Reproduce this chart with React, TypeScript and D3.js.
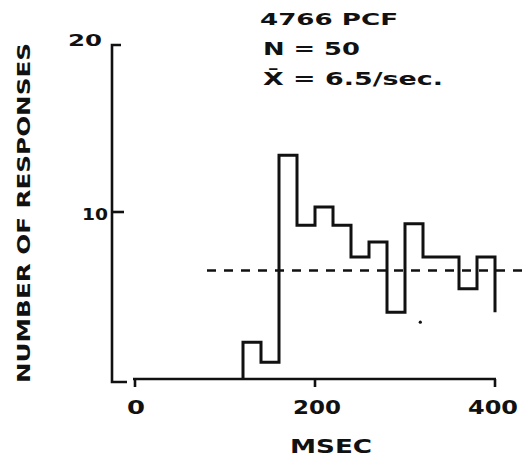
import React from "react";
import * as d3 from "d3";

const binStarts = [120, 140, 160, 180, 200, 220, 240, 260, 280, 300, 320, 340, 360, 380];
const binWidth = 20;
const counts = [2.2, 1.0, 13.4, 9.2, 10.3, 9.2, 7.3, 8.2, 4.0, 9.3, 7.3, 7.3, 5.4, 7.3];
const tailEnd = 4.0;
const meanRate = 6.5;
const meanFrom = 80;
const meanTo = 436;
const xTicks = [0, 200, 400];
const yTicks = [10, 20];
const titleLines = ["4766 PCF", "N = 50", "X\u0304 = 6.5/sec."];
const strayDot = [317, 3.4];

export default function App() {
  const W = 529, H = 466;
  const x = d3.scaleLinear().domain([0, 400]).range([135, 495]);
  const y = d3.scaleLinear().domain([0, 20]).range([379, 45]);

  // step path of histogram
  const pts: [number, number][] = [];
  pts.push([binStarts[0], 0]);
  binStarts.forEach((s, i) => {
    pts.push([s, counts[i]]);
    pts.push([s + binWidth, counts[i]]);
  });
  const last = binStarts[binStarts.length - 1] + binWidth;
  pts.push([last, tailEnd]);
  const line = d3.line<[number, number]>().x(d => x(d[0])).y(d => y(d[1]));

  const font = "'DejaVu Sans', Verdana, sans-serif";
  const axisX = 112;

  return (
    <svg width={W} height={H} style={{ position: "absolute", left: 0, top: 0, background: "#fff" }}>
      <rect width={W} height={H} fill="#fff" />
      {/* y axis */}
      <path d={`M${axisX + 9},${y(20)} H${axisX} V${382} H${axisX + 15}`} fill="none" stroke="#111" strokeWidth={2.6} />
      {yTicks.filter(t => t !== 20).map(t => (
        <line key={t} x1={axisX} x2={axisX + 12} y1={y(t)} y2={y(t)} stroke="#111" strokeWidth={2.6} />
      ))}
      {/* x axis */}
      <line x1={x(0) - 2} x2={x(400) + 1} y1={y(0)} y2={y(0)} stroke="#111" strokeWidth={2.6} />
      {xTicks.map(t => (
        <line key={t} x1={x(t)} x2={x(t)} y1={y(0)} y2={y(0) + 8} stroke="#111" strokeWidth={2.6} />
      ))}
      {/* y tick labels */}
      <text x={68} y={46} fontFamily={font} fontWeight="bold" fontSize={15} textLength={34} lengthAdjust="spacingAndGlyphs" fill="#111">20</text>
      <text x={82} y={220} fontFamily={font} fontWeight="bold" fontSize={15} textLength={26} lengthAdjust="spacingAndGlyphs" fill="#111">10</text>
      {/* x tick labels */}
      {xTicks.map((t, i) => (
        <text key={t} x={x(t) + (i === 2 ? -2 : i === 1 ? 2 : 1)} y={414} textAnchor="middle" fontFamily={font} fontWeight="bold" fontSize={20}
          textLength={i === 0 ? 18 : i === 1 ? 48 : 50} lengthAdjust="spacingAndGlyphs" fill="#111">{t}</text>
      ))}
      {/* axis titles */}
      <text x={331} y={453} textAnchor="middle" fontFamily={font} fontWeight="bold" fontSize={20} textLength={82} lengthAdjust="spacingAndGlyphs" fill="#111">MSEC</text>
      <text transform="translate(30,213) rotate(-90)" textAnchor="middle" fontFamily={font} fontWeight="bold" fontSize={17} textLength={340} lengthAdjust="spacingAndGlyphs" fill="#111">NUMBER OF RESPONSES</text>
      {/* title */}
      <text x={260} y={25} fontFamily={font} fontSize={16.5} textLength={138} lengthAdjust="spacingAndGlyphs" fill="#111" fontWeight="bold">{titleLines[0]}</text>
      <text x={263} y={55} fontFamily={font} fontSize={17} textLength={97} lengthAdjust="spacingAndGlyphs" fill="#111" fontWeight="bold">{titleLines[1]}</text>
      <text x={263} y={85} fontFamily={font} fontSize={17} textLength={180} lengthAdjust="spacingAndGlyphs" fill="#111" fontWeight="bold">{titleLines[2]}</text>
      {/* mean line */}
      <line x1={x(meanFrom)} x2={x(meanTo)} y1={y(meanRate)} y2={y(meanRate)} stroke="#111" strokeWidth={2.4} strokeDasharray="9,8" />
      {/* histogram */}
      <path d={line(pts) || ""} fill="none" stroke="#111" strokeWidth={3} strokeLinejoin="miter" />
      <circle cx={x(strayDot[0])} cy={y(strayDot[1])} r={1.6} fill="#111" />
    </svg>
  );
}
